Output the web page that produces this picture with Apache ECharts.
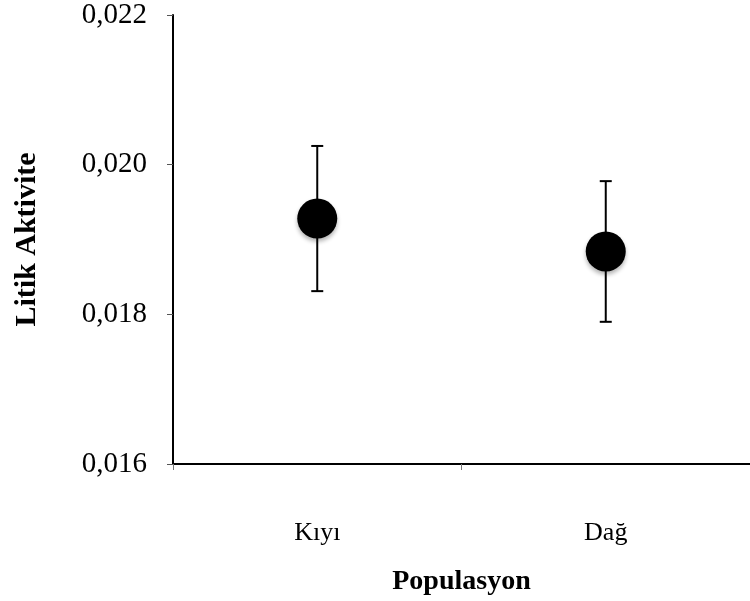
<!DOCTYPE html>
<html>
<head>
<meta charset="utf-8">
<script src="https://cdn.jsdelivr.net/npm/echarts@6/dist/echarts.min.js"></script>
<style>html,body{margin:0;padding:0;background:#fff}#c{width:750px;height:601px}</style>
</head>
<body>
<div id="c"></div>
<script>
const categories = ['Kıyı', 'Dağ'];
const means = [0.01928, 0.01884];
const errors = [0.00097, 0.00094];
const yTickValues = [0.016, 0.018, 0.020, 0.022];
const yAxisTitle = 'Litik Aktivite';
const xAxisTitle = 'Populasyon';

const font = 'Liberation Serif, Times New Roman, serif';
const chart = echarts.init(document.getElementById('c'));
const errData = categories.map((c, i) => [i, means[i], errors[i]]);
chart.setOption({
  animation: false,
  grid: { left: 173, top: 15, width: 580, height: 466 },
  xAxis: {
    type: 'category',
    data: categories,
    boundaryGap: true,
    name: xAxisTitle,
    nameLocation: 'middle',
    nameGap: 104,
    nameTextStyle: { fontFamily: font, fontSize: 28, fontWeight: 'bold', color: '#000' },
    axisLine: { lineStyle: { color: '#000', width: 2 } },
    axisTick: { show: true, length: 6, lineStyle: { color: '#777', width: 1 } },
    axisLabel: { fontFamily: font, fontSize: 26, color: '#000', margin: 56 }
  },
  yAxis: {
    type: 'value',
    min: yTickValues[0],
    max: yTickValues[yTickValues.length - 1],
    interval: yTickValues[1] - yTickValues[0],
    name: yAxisTitle,
    nameLocation: 'middle',
    nameRotate: 90,
    nameGap: 131,
    nameTextStyle: { fontFamily: font, fontSize: 30, fontWeight: 'bold', color: '#000' },
    splitLine: { show: false },
    axisLine: { show: true, lineStyle: { color: '#000', width: 2 } },
    axisTick: { show: true, length: 6, lineStyle: { color: '#555', width: 1 } },
    axisLabel: {
      fontFamily: font, fontSize: 29, color: '#000', margin: 26,
      formatter: v => v.toFixed(3).replace('.', ',')
    }
  },
  series: [
    {
      type: 'custom',
      data: errData,
      z: 2,
      renderItem: function (params, api) {
        const x = api.value(0), m = api.value(1), e = api.value(2);
        const top = api.coord([x, m + e]);
        const bot = api.coord([x, m - e]);
        const w = 6;
        const st = { stroke: '#000', lineWidth: 2 };
        return {
          type: 'group',
          children: [
            { type: 'line', shape: { x1: top[0], y1: top[1], x2: bot[0], y2: bot[1] }, style: st },
            { type: 'line', shape: { x1: top[0] - w, y1: top[1], x2: top[0] + w, y2: top[1] }, style: st },
            { type: 'line', shape: { x1: bot[0] - w, y1: bot[1], x2: bot[0] + w, y2: bot[1] }, style: st }
          ]
        };
      }
    },
    {
      type: 'scatter',
      data: means,
      z: 3,
      symbol: 'circle',
      symbolSize: 40,
      itemStyle: { color: '#000', opacity: 1, shadowBlur: 4, shadowOffsetY: 3, shadowColor: 'rgba(0,0,0,0.3)' }
    }
  ]
});
</script>
</body>
</html>
